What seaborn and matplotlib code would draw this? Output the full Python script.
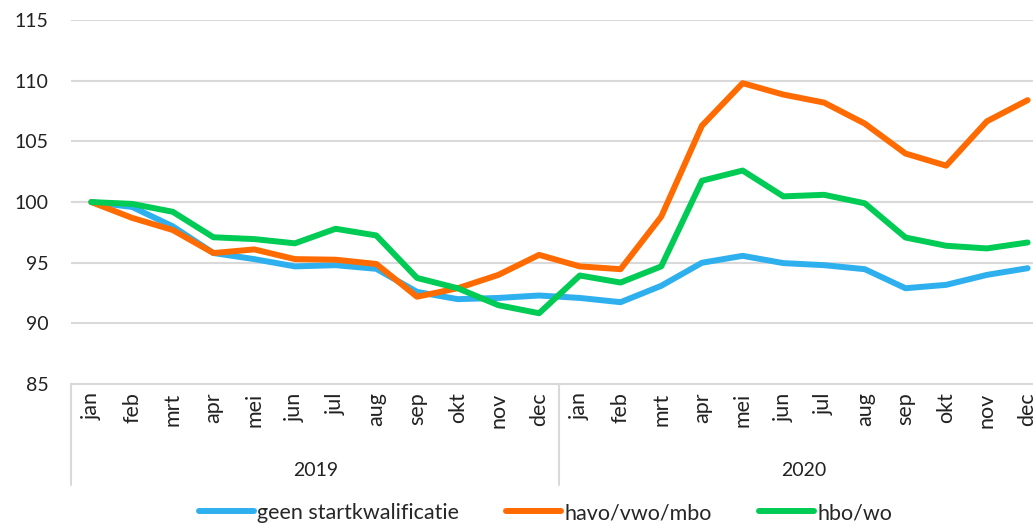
import pandas as pd
import numpy as np
import matplotlib.pyplot as plt
import seaborn as sns

sns.set_style(style="white")
plt.rcParams['font.family'] = ['Lato', 'DejaVu Sans']

# maanden en jaren
maanden = ['jan', 'feb', 'mrt', 'apr', 'mei', 'jun', 'jul', 'aug', 'sep', 'okt', 'nov', 'dec']
jaren = ['2019', '2020']
reeksen = ['geen startkwalificatie', 'havo/vwo/mbo', 'hbo/wo']
kleuren = ['#2FB0EE', '#FF6B00', '#00CC55']

# index (jan 2019 = 100)
geen_start = [100, 99.6, 98.0, 95.8, 95.3, 94.7, 94.8, 94.5, 92.6, 92.0, 92.1, 92.3,
              92.1, 91.75, 93.1, 95.0, 95.57, 94.97, 94.8, 94.47, 92.9, 93.18, 94.0, 94.55]
havo_vwo_mbo = [100, 98.7, 97.7, 95.8, 96.1, 95.3, 95.25, 94.9, 92.2, 92.9, 94.0, 95.65,
                94.7, 94.47, 98.8, 106.3, 109.8, 108.86, 108.2, 106.47, 104.0, 103.0, 106.66, 108.4]
hbo_wo = [100, 99.85, 99.2, 97.1, 96.95, 96.6, 97.8, 97.25, 93.75, 92.9, 91.5, 90.84,
          93.95, 93.37, 94.7, 101.76, 102.6, 100.47, 100.6, 99.9, 97.08, 96.4, 96.18, 96.67]

n = len(maanden) * len(jaren)
df = pd.DataFrame({
    'pos': list(range(n)) * 3,
    'waarde': geen_start + havo_vwo_mbo + hbo_wo,
    'groep': np.repeat(reeksen, n),
})

fig = plt.figure(figsize=(10.33, 5.24), dpi=100)
ax = fig.add_axes([0.0687, 0.267, 0.9458, 0.6947])

sns.lineplot(data=df, x='pos', y='waarde', hue='groep', hue_order=reeksen,
             palette=kleuren, linewidth=4.3, ax=ax, legend=False)

ax.set_xlim(-0.5, n - 0.5)
ax.set_ylim(85, 115)
ax.set_yticks(range(85, 116, 5))
ax.tick_params(axis='y', length=0, pad=16, labelsize=14, labelcolor='#222222')
ax.set_xticks(range(n))
ax.set_xticklabels(maanden * len(jaren), rotation=90, fontsize=15.5, color='#222222')
ax.tick_params(axis='x', length=0, pad=6)
ax.set_xlabel('')
ax.set_ylabel('')
ax.yaxis.grid(True, color='#D9D9D9', linewidth=1.5)
ax.set_axisbelow(True)
for s in ['top', 'right', 'left']:
    ax.spines[s].set_visible(False)
ax.spines['bottom'].set_color('#D9D9D9')
ax.spines['bottom'].set_linewidth(1.5)

# scheidingslijnen en jaarlabels onder de as
trans = ax.get_xaxis_transform()
for xs in [-0.5, 11.5, 23.5]:
    ax.plot([xs, xs], [0, -0.277], transform=trans, color='#D9D9D9', lw=1.5, clip_on=False)
for i, jaar in enumerate(jaren):
    ax.text(i * 12 + 5.5, -0.236, jaar, transform=trans, ha='center', va='center',
            fontsize=14, color='#222222')

handles = [plt.Line2D([], [], color=c, lw=4.3, solid_capstyle='round') for c in kleuren]
fig.legend(handles, reeksen, loc='center', bbox_to_anchor=(0.528, 1 - 513 / 524),
           ncol=3, frameon=False, fontsize=15.5, handlelength=2.55, handletextpad=0.15,
           columnspacing=2.2)

fig.savefig('out.png', dpi=100)
